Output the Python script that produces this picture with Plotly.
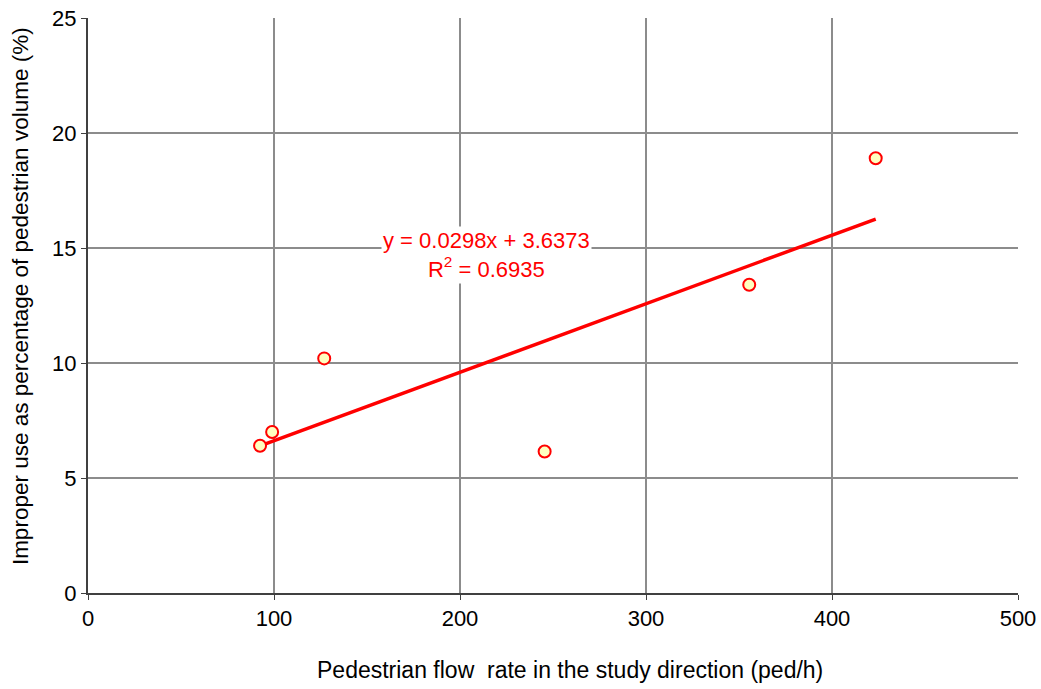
import plotly.graph_objects as go

# Observed sites: pedestrian flow (ped/h) vs improper use (%)
flow_rate = [92.5, 99, 127, 245.5, 355.5, 423.5]
improper_pct = [6.4, 7.0, 10.2, 6.15, 13.4, 18.9]

# Linear trendline coefficients
slope = 0.0298
intercept = 3.6373
r_squared = 0.6935

x_ticks = [0, 100, 200, 300, 400, 500]
y_ticks = [0, 5, 10, 15, 20, 25]

x_title = "Pedestrian flow  rate in the study direction (ped/h)"
y_title = "Improper use as percentage of pedestrian volume (%)"

trend_x = [min(flow_rate), max(flow_rate)]
trend_y = [slope * v + intercept for v in trend_x]

font_family = "Liberation Sans, Arial, sans-serif"

fig = go.Figure()
fig.add_trace(go.Scatter(
    x=trend_x, y=trend_y, mode="lines",
    line=dict(color="#ff0000", width=3.5),
    hoverinfo="skip", showlegend=False,
))
fig.add_trace(go.Scatter(
    x=flow_rate, y=improper_pct, mode="markers",
    marker=dict(size=12, color="#ffffc0", line=dict(color="#ff0000", width=2)),
    showlegend=False,
))

# Trendline equation label
fig.add_annotation(
    x=214.5, y=14.7, xref="x", yref="y",
    text=f"y = {slope}x + {intercept}<br>R<sup>2</sup> = {r_squared}",
    showarrow=False, align="center",
    font=dict(family=font_family, size=22, color="#ff0000"),
    bgcolor="white",
)

# Axis titles placed as paper annotations
fig.add_annotation(
    x=0.518, y=-0.134, xref="paper", yref="paper",
    xanchor="center", yanchor="middle",
    text=x_title, showarrow=False,
    font=dict(family=font_family, size=23, color="#000000"),
)
fig.add_annotation(
    x=-0.073, y=0.5165, xref="paper", yref="paper",
    xanchor="center", yanchor="middle", textangle=-90,
    text=y_title, showarrow=False,
    font=dict(family=font_family, size=22.5, color="#000000"),
)

axis_common = dict(
    showgrid=True, gridcolor="#8c8c8c", gridwidth=2,
    showline=True, linecolor="#404040", linewidth=2,
    ticks="outside", ticklen=5, tickcolor="#404040", tickwidth=1,
    zeroline=False, automargin=False,
    tickfont=dict(family=font_family, size=22, color="#000000"),
)

fig.update_xaxes(range=[0, 500], tickvals=x_ticks, **axis_common)
fig.update_yaxes(range=[0, 25], tickvals=y_ticks, **axis_common)

fig.update_layout(
    width=1041, height=689,
    margin=dict(l=88, r=23, t=18, b=96),
    plot_bgcolor="white", paper_bgcolor="white",
    font=dict(family=font_family),
)

fig.write_html("out.html")
